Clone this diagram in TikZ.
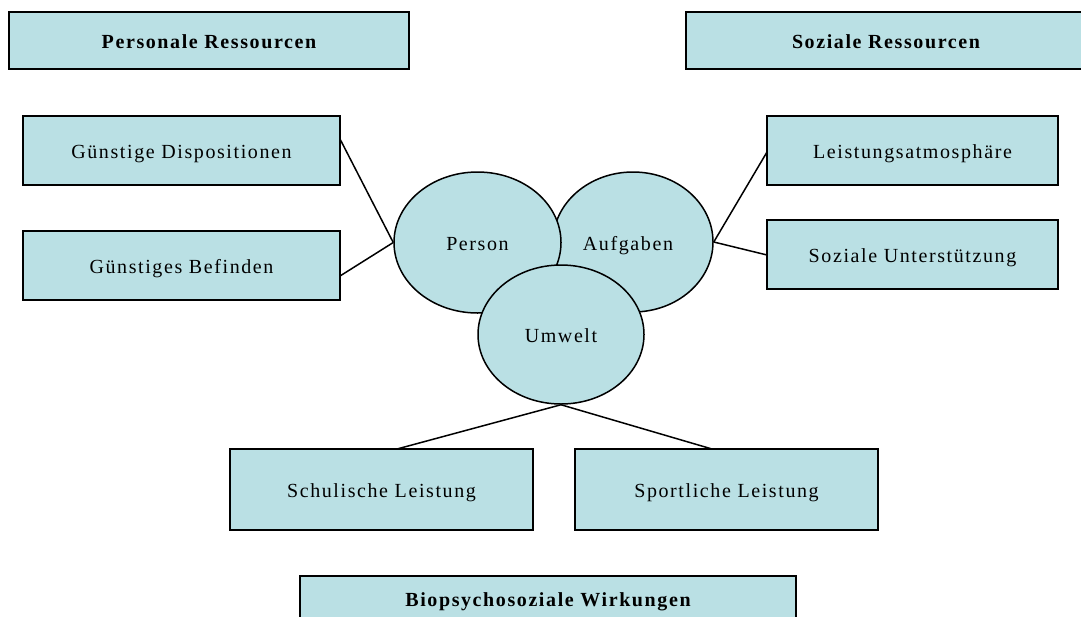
\documentclass[tikz,border=0pt]{standalone}
\usepackage{fontspec}
\setmainfont{Liberation Serif}[LetterSpace=8]
\usetikzlibrary{shapes.geometric}
\definecolor{boxfill}{RGB}{186,224,228}
\begin{document}
\begin{tikzpicture}[x=1pt,y=-1pt,
  txt/.style={font=\fontsize{20}{22}\selectfont,text height=16pt,text depth=0pt},
  box/.style={txt,draw=black,fill=boxfill,line width=1.6pt,rectangle,inner sep=0pt},
  headbox/.style={box,font=\fontsize{20}{22}\selectfont\bfseries},
  blob/.style={txt,draw=black,fill=boxfill,line width=1.5pt,ellipse,inner sep=0pt},
  link/.style={draw=black,line width=1.5pt}]
\useasboundingbox (0,0) rectangle (1081,616);
\fill[white] (0,0) rectangle (1081,616);

% headings
\node[headbox,minimum width=400pt,minimum height=57pt] (pr) at (209,40.5) {Personale Ressourcen};
\node[headbox,minimum width=400pt,minimum height=57pt] (sr) at (886,40.5) {Soziale Ressourcen};
\node[headbox,minimum width=496pt,minimum height=44pt] (bw) at (548,598) {Biopsychosoziale Wirkungen};

% resources
\node[box,minimum width=317pt,minimum height=69pt] (gd) at (181.5,150.5) {Günstige Dispositionen};
\node[box,minimum width=317pt,minimum height=69pt] (gb) at (181.5,265.5) {Günstiges Befinden};
\node[box,minimum width=291pt,minimum height=69pt] (la) at (912.5,150.5) {Leistungsatmosphäre};
\node[box,minimum width=291pt,minimum height=69pt] (su) at (912.5,254.5) {Soziale Unterstützung};

% outcomes
\node[box,minimum width=303pt,minimum height=81pt] (sl) at (381.5,489.5) {Schulische Leistung};
\node[box,minimum width=303pt,minimum height=81pt] (spl) at (726.5,489.5) {Sportliche Leistung};

% the three overlapping ellipses
\node[blob,minimum width=160pt,minimum height=140pt] (auf) at (633,242) {};
\node[blob,minimum width=167pt,minimum height=141pt] (per) at (477.5,242.5) {Person};
\node[txt] (aufl) at (628,242.5) {Aufgaben};
\node[blob,minimum width=166pt,minimum height=139pt] (umw) at (561,334.5) {Umwelt};

% connectors
\coordinate (gdR) at (340,139);
\coordinate (gbR) at (340,276);
\coordinate (laL) at (767,152);
\coordinate (suL) at (767,255);
\coordinate (slT) at (397,449);
\coordinate (spT) at (712,449);
\draw[link] (gdR) -- (per.west);
\draw[link] (gbR) -- (per.west);
\draw[link] (laL) -- (auf.east);
\draw[link] (suL) -- (auf.east);
\draw[link] (umw.south) -- (slT);
\draw[link] (umw.south) -- (spT);
\end{tikzpicture}
\end{document}
